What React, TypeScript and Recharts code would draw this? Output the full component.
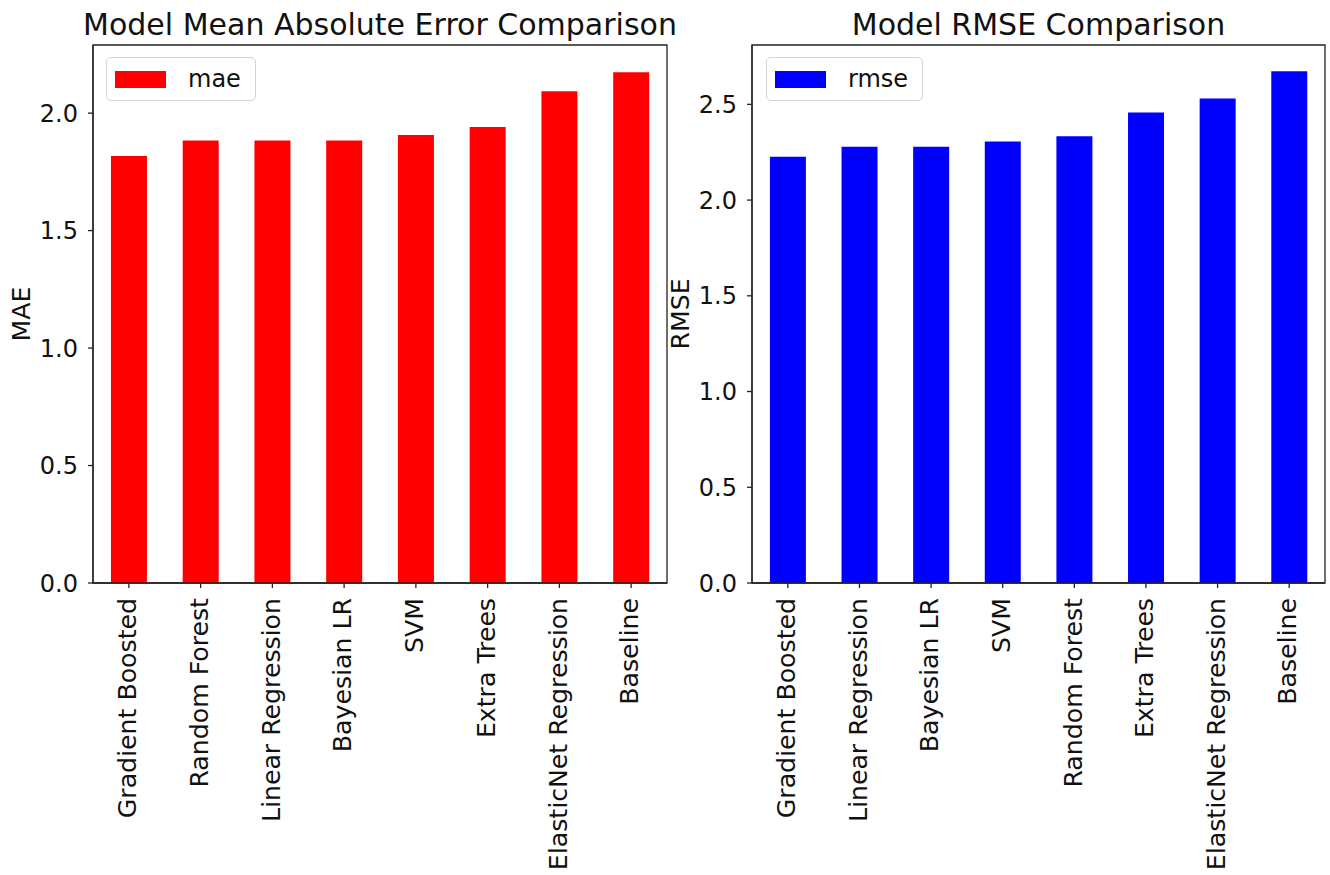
import React from 'react';
import { BarChart, Bar, XAxis, YAxis, Legend, ReferenceArea } from 'recharts';

const maeCategories = ['Gradient Boosted', 'Random Forest', 'Linear Regression', 'Bayesian LR', 'SVM', 'Extra Trees', 'ElasticNet Regression', 'Baseline'];
const maeValues = [1.817, 1.884, 1.884, 1.884, 1.907, 1.941, 2.093, 2.174];
const rmseCategories = ['Gradient Boosted', 'Linear Regression', 'Bayesian LR', 'SVM', 'Random Forest', 'Extra Trees', 'ElasticNet Regression', 'Baseline'];
const rmseValues = [2.226, 2.278, 2.278, 2.306, 2.334, 2.458, 2.531, 2.673];
const maeTicks = [0, 0.5, 1.0, 1.5, 2.0];
const rmseTicks = [0, 0.5, 1.0, 1.5, 2.0, 2.5];
const maeMax = 2.29;
const rmseMax = 2.81;

const maeData = maeCategories.map((name, i) => ({ name, mae: maeValues[i] }));
const rmseData = rmseCategories.map((name, i) => ({ name, rmse: rmseValues[i] }));

const FONT = "'DejaVu Sans', sans-serif";
const TEXT = '#111';
const AXIS = '#222';

const XTick = (props: any) => {
  const { x, y, payload } = props;
  return (
    <g transform={`translate(${x},${y})`}>
      <line x1={0} y1={-8} x2={0} y2={-3} stroke={AXIS} strokeWidth={1.3} />
      <text
        transform="translate(0,7) rotate(-90) scale(1.05,1)"
        textAnchor="end"
        dy="0.3em"
        fontSize={24}
        fontFamily={FONT}
        fill={TEXT}
      >
        {payload.value}
      </text>
    </g>
  );
};

const YTick = (props: any) => {
  const { x, y, payload } = props;
  return (
    <g transform={`translate(${x},${y})`}>
      <line x1={3} y1={0} x2={8} y2={0} stroke={AXIS} strokeWidth={1.3} />
      <text x={-7} textAnchor="end" dy="0.36em" fontSize={24} fontFamily={FONT} fill={TEXT}>
        {payload.value.toFixed(1)}
      </text>
    </g>
  );
};

const makeLegend = (color: string) => (props: any) => {
  const item = props.payload && props.payload[0];
  return (
    <div
      style={{
        display: 'flex',
        alignItems: 'center',
        border: '1px solid #d4d4d4',
        borderRadius: 5,
        background: 'rgba(255,255,255,0.8)',
        padding: '0 14px 0 8px',
        height: 44,
        boxSizing: 'border-box',
        fontFamily: FONT,
        fontSize: 24,
        color: TEXT,
      }}
    >
      <span style={{ display: 'inline-block', width: 51, height: 17, background: color, marginRight: 22 }} />
      <span style={{ lineHeight: '24px' }}>{item ? item.value : ''}</span>
    </div>
  );
};

const AxisTitle = (text: string) => (props: any) => {
  const vb = props.viewBox || {};
  const cx = vb.x - 11;
  const cy = vb.y + vb.height / 2;
  return (
    <text
      transform={`translate(${cx},${cy}) rotate(-90) scale(1.05,1)`}
      textAnchor="middle"
      dominantBaseline="central"
      fontSize={24}
      fontFamily={FONT}
      fill={TEXT}
    >
      {text}
    </text>
  );
};

const titleStyle = (left: number, width: number): React.CSSProperties => ({
  position: 'absolute',
  left,
  width,
  top: 7,
  textAlign: 'center',
  fontFamily: FONT,
  fontSize: 30,
  color: TEXT,
  lineHeight: '36px',
  whiteSpace: 'nowrap',
});

export default function App() {
  return (
    <div style={{ position: 'absolute', left: 0, top: 0, width: 1330, height: 875, background: '#fff', overflow: 'hidden' }}>
      <div style={titleStyle(63, 634)}>Model Mean Absolute Error Comparison</div>
      <div style={titleStyle(752, 573)}>Model RMSE Comparison</div>
      <div style={{ position: 'absolute', left: 0, top: 0 }}>
        <BarChart width={680} height={875} data={maeData} margin={{ top: 45, right: 13, bottom: 12, left: 33 }} barCategoryGap="25%">
          <XAxis dataKey="name" height={280} interval={0} tick={<XTick />} tickLine={false} axisLine={{ stroke: AXIS, strokeWidth: 1.3 }} />
          <YAxis width={60} domain={[0, maeMax]} ticks={maeTicks} tick={<YTick />} tickLine={false} axisLine={{ stroke: AXIS, strokeWidth: 1.3 }} label={{ content: AxisTitle('MAE') }} />
          <Legend layout="horizontal" verticalAlign="middle" align="center" content={makeLegend('#ff0000')} wrapperStyle={{ position: 'absolute', top: 57, left: 106, width: 'auto', height: 'auto' }} />
          <Bar dataKey="mae" fill="#ff0000" isAnimationActive={false} />
          <ReferenceArea y1={0} y2={maeMax} fill="none" fillOpacity={0} stroke={AXIS} strokeWidth={1.3} />
        </BarChart>
      </div>
      <div style={{ position: 'absolute', left: 660, top: 0 }}>
        <BarChart width={670} height={875} data={rmseData} margin={{ top: 45, right: 5, bottom: 12, left: 32 }} barCategoryGap="25%">
          <XAxis dataKey="name" height={280} interval={0} tick={<XTick />} tickLine={false} axisLine={{ stroke: AXIS, strokeWidth: 1.3 }} />
          <YAxis width={60} domain={[0, rmseMax]} ticks={rmseTicks} tick={<YTick />} tickLine={false} axisLine={{ stroke: AXIS, strokeWidth: 1.3 }} label={{ content: AxisTitle('RMSE') }} />
          <Legend layout="horizontal" verticalAlign="middle" align="center" content={makeLegend('#0000ff')} wrapperStyle={{ position: 'absolute', top: 57, left: 106, width: 'auto', height: 'auto' }} />
          <Bar dataKey="rmse" fill="#0000ff" isAnimationActive={false} />
          <ReferenceArea y1={0} y2={rmseMax} fill="none" fillOpacity={0} stroke={AXIS} strokeWidth={1.3} />
        </BarChart>
      </div>
    </div>
  );
}
